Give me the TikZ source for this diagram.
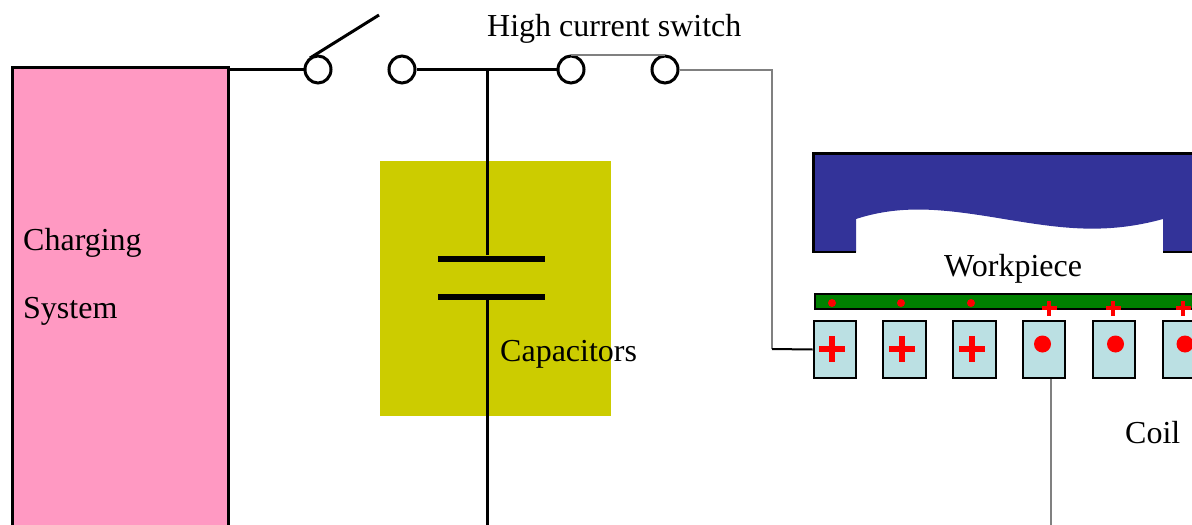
\documentclass[tikz,border=0pt]{standalone}
\usepackage{fontspec}
\usetikzlibrary{shapes.geometric}
\setmainfont{Liberation Serif}
\definecolor{pinkbox}{HTML}{FF99C2}
\definecolor{olivebox}{HTML}{CCCC00}
\definecolor{navybox}{HTML}{333399}
\definecolor{greenbar}{HTML}{008000}
\definecolor{coilfill}{HTML}{BBE0E3}
\definecolor{wiregray}{HTML}{808080}
\tikzset{
  wire/.style={draw=black,line width=3pt},
  graywire/.style={draw=wiregray,line width=2pt},
  contact/.style={ellipse,draw=black,line width=3pt,fill=white,minimum width=26pt,minimum height=27pt,inner sep=0pt},
  plate/.style={rectangle,fill=black,minimum width=107pt,minimum height=6pt,inner sep=0pt},
  coilbox/.style={rectangle,draw=black,line width=2.2pt,fill=coilfill,minimum width=42.5pt,minimum height=57pt,inner sep=0pt},
  label/.style={font=\fontsize{32}{32}\selectfont,inner sep=0pt,anchor=base west,text=black},
}
\newcommand{\redplus}[4]{%
  \fill[red] (#1-#3,#2-#4) rectangle (#1+#3,#2+#4);
  \fill[red] (#1-#4,#2-#3) rectangle (#1+#4,#2+#3);}
\begin{document}
\begin{tikzpicture}[x=1pt,y=-1pt]
\clip (0,0) rectangle (1192,525);
% charging system
\node[rectangle,draw=black,line width=3pt,fill=pinkbox,minimum width=216.5pt,minimum height=500pt,inner sep=0pt,anchor=north west] (charger) at (10.5,66) {};
% capacitor block
\node[rectangle,fill=olivebox,minimum width=231.5pt,minimum height=255pt,inner sep=0pt,anchor=north west] (capblock) at (379.5,161) {};
\node[plate] (plateA) at (491,258.5) {};
\node[plate] (plateB) at (491,296.5) {};
% switch contacts
\coordinate (leverbase) at (310,58);
\coordinate (lever) at (379,15);
\coordinate (junction) at (487,70);
\coordinate (capbottom) at (487,530);
\coordinate (bendA) at (772,70);
\coordinate (bendB) at (772,349);
\coordinate (coilbottom) at (1051,530);
\draw[wire] (leverbase) -- (lever);
\node[contact] (c1) at (318,69.5) {};
\node[contact] (c2) at (402,69.5) {};
\node[contact] (c3) at (571,69.5) {};
\node[contact] (c4) at (665,69.5) {};
% wires
\draw[wire] (charger.north east |- c1.west) -- (c1.west);
\draw[wire] (c2.east) -- (c3.west);
\draw[wire] (junction) -- (junction |- plateA.north);
\draw[wire] (junction |- plateB.south) -- (capbottom);
\draw[graywire] (c3.north) -- (c4.north);
\draw[graywire] (c4.east |- bendA) -- (bendA) -- (bendB);
% die
\fill[navybox] (813,153) -- (1200,153) -- (1200,252) -- (1163,252) -- (1163,219)
  .. controls (1105,235) and (1060,228) .. (1010,220)
  .. controls (950,210) and (905,203) .. (856,219) -- (856,252) -- (813,252) -- cycle;
\draw[black,line width=2.4pt] (856,252) -- (813.5,252) -- (813.5,153.5) -- (1200,153.5);
\draw[black,line width=1.6pt] (1163,252) -- (1200,252);
% workpiece
\node[rectangle,draw=black,line width=2pt,fill=greenbar,minimum width=400pt,minimum height=15pt,inner sep=0pt,anchor=north west] (bar) at (813.5,293) {};
\foreach \x in {832,901,971} \fill[red] (\x,303) circle (4);
\redplus{1049}{308}{7.5}{2.4}
\redplus{1113}{308}{7.5}{2.4}
\redplus{1183}{308}{7.5}{2.4}
% coil
\node[coilbox] (coil1) at (835,349.5) {};
\node[coilbox] (coil2) at (904.5,349.5) {};
\node[coilbox] (coil3) at (974.5,349.5) {};
\node[coilbox] (coil4) at (1044,349.5) {};
\node[coilbox] (coil5) at (1114,349.5) {};
\node[coilbox] (coil6) at (1184,349.5) {};
\draw[wire,line width=2pt] (bendB) -- (coil1.west);
\draw[graywire] (coilbottom |- coil4.south) -- (coilbottom);
\redplus{832}{349}{13}{2.8}
\redplus{902}{349}{13}{2.8}
\redplus{972}{349}{13}{2.8}
\fill[red] (1042.5,344) circle (8.5);
\fill[red] (1115.5,344) circle (8.5);
\fill[red] (1185,344) circle (8.5);
% labels
\node[label] (lswitch) at (487,36) {High current switch};
\node[label] (lcharge1) at (23,250) {Charging};
\node[label] (lcharge2) at (23,318) {System};
\node[label] (lcap) at (500,361) {Capacitors};
\node[label] (lwork) at (944,276) {Workpiece};
\node[label] (lcoil) at (1125,443) {Coil};
\end{tikzpicture}
\end{document}
